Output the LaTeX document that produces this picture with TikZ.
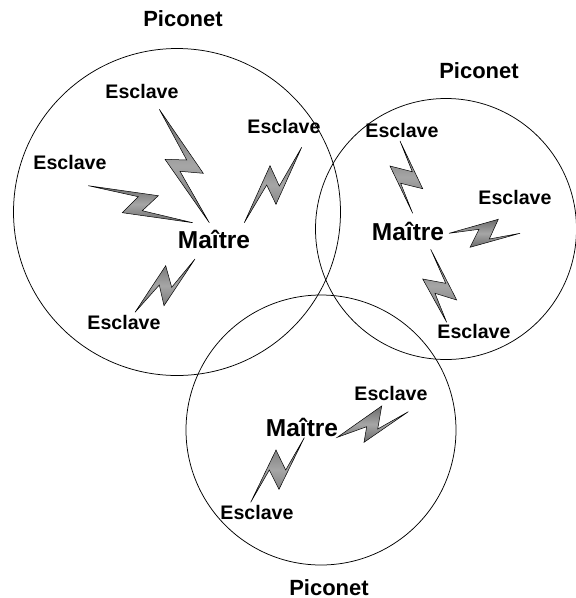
\documentclass[tikz,border=0pt]{standalone}
\usepackage{fontspec}
\setmainfont{Liberation Sans}
\begin{document}
\begin{tikzpicture}[x=1pt, y=-1pt, line width=.75pt,
  net/.style={circle,draw,inner sep=0pt},
  net label/.style={inner sep=0pt,font=\fontsize{22}{22}\bfseries\selectfont},
  label node/.style={inner sep=0pt,font=\fontsize{19.6}{20}\bfseries\selectfont},
  master node/.style={inner sep=0pt,font=\fontsize{24.5}{25}\bfseries\selectfont},
  bolt/.style={draw,line width=.5pt,line join=miter,top color=black!58,bottom color=black!58,middle color=black!35}]
\useasboundingbox (0,0) rectangle (576,598);
\node [net,minimum size=327pt](n0) at (177,212) {};
\node [net,minimum size=261pt](n1) at (446,229) {};
\node [net,minimum size=270pt](n2) at (321,430) {};
\draw [bolt] (159.3,109.3) -- (186.7,160) -- (165,159.3) -- (209.3,222.7) -- (180,171.3) -- (203.3,173.3) -- cycle;
\draw [bolt] (88.3,185.7) -- (158.3,195.7) -- (142.3,210.7) -- (192.7,222.7) -- (122.3,212.7) -- (138.3,196.7) -- cycle;
\draw [bolt] (244.3,222.7) -- (270,165.7) -- (279.3,186) -- (301.7,147.3) -- (276,204.3) -- (266.7,185) -- cycle;
\draw [bolt] (135,312.3) -- (165.7,265.7) -- (171.7,287.3) -- (195,259) -- (164,305.7) -- (159.3,285) -- cycle;
\draw [bolt] (400,141) -- (422.7,188.7) -- (400.7,183.3) -- (412.7,213.3) -- (390,166) -- (412.3,171.7) -- cycle;
\draw [bolt] (449,233.3) -- (498.3,219.3) -- (489.3,239) -- (520,233.3) -- (470,247.3) -- (479,229.3) -- cycle;
\draw [bolt] (430.7,249.3) -- (456.7,300) -- (435,293.3) -- (446.7,322.3) -- (422.7,279) -- (445.7,283.3) -- cycle;
\draw [bolt] (337.3,437.3) -- (381.7,406) -- (377.7,429) -- (408.3,411.7) -- (364,442.3) -- (366.7,426.7) -- cycle;
\draw [bolt] (250.7,502.3) -- (276,450) -- (285.7,470) -- (304.3,437.7) -- (279,489.3) -- (269.3,470) -- cycle;
\begin{scope}[every node/.style={net label}]
\node (p0) at (183,19) {Piconet};
\node (p1) at (479,71) {Piconet};
\node (p2) at (329,588) {Piconet};
\end{scope}
\begin{scope}[every node/.style={label node}]
\node (e0) at (142,91) {Esclave};
\node (e1) at (284,126) {Esclave};
\node (e2) at (70,162) {Esclave};
\node (e3) at (124,322) {Esclave};
\node (e4) at (402,130) {Esclave};
\node (e5) at (515,197) {Esclave};
\node (e6) at (474,331) {Esclave};
\node (e7) at (391,393) {Esclave};
\node (e8) at (257,512) {Esclave};
\end{scope}
\node [master node](m0) at (214,239) {Maître};
\node [master node](m1) at (408,231) {Maître};
\node [master node](m2) at (302,427) {Maître};
\end{tikzpicture}
\end{document}
